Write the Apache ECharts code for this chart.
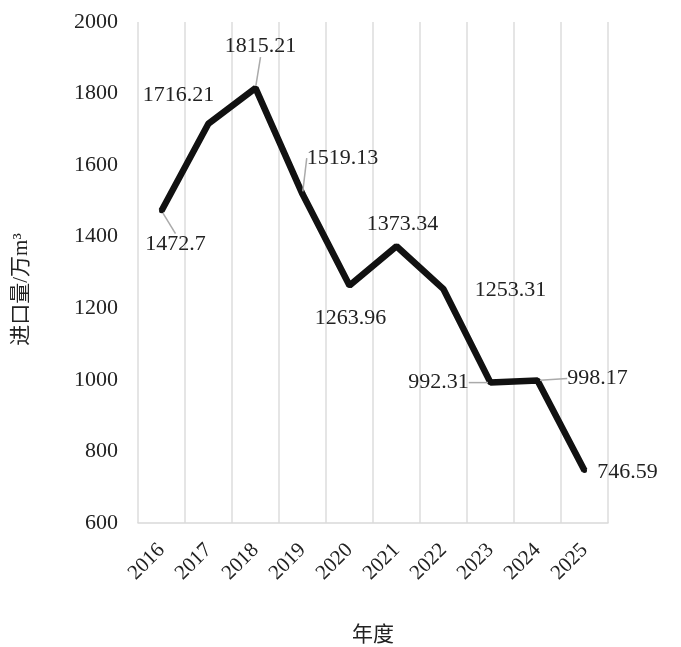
<!DOCTYPE html>
<html>
<head>
<meta charset="utf-8">
<script src="https://cdn.jsdelivr.net/npm/echarts@6/dist/echarts.min.js"></script>
<style>html,body{margin:0;padding:0;background:#fff;}#chart{width:681px;height:647px;}</style>
</head>
<body>
<div id="chart"></div>
<script>
var years = ['2016','2017','2018','2019','2020','2021','2022','2023','2024','2025'];
var importVolume = [1472.7, 1716.21, 1815.21, 1519.13, 1263.96, 1373.34, 1253.31, 992.31, 998.17, 746.59];
var yTicks = [600, 800, 1000, 1200, 1400, 1600, 1800, 2000];

// label placement offsets (layout only)
var labelOffsets = [[14,34],[-30,-28],[5,-42],[40,-36],[1,33],[6,-22],[67,1],[-52,0],[60,-2],[43,2]];
var leaderShown = [true,false,true,true,false,false,false,true,true,false];

var FONT = '"Liberation Serif","DejaVu Serif","Noto Sans CJK SC",serif';
var chart = echarts.init(document.getElementById('chart'), null, {renderer:'canvas'});
chart.setOption({
  backgroundColor:'#fff',
  animation:false,
  grid:{left:138,right:73,top:22,bottom:124,containLabel:false,outerBoundsMode:'none'},
  xAxis:{
    type:'category', data:years, boundaryGap:true,
    axisLine:{show:true,lineStyle:{color:'#d9d9d9',width:1.5}},
    axisTick:{show:false},
    splitLine:{show:true,lineStyle:{color:'#dcdcdc',width:1.5}},
    axisLabel:{interval:0,rotate:45,fontFamily:FONT,fontSize:21,color:'#222',margin:24},
    name:'年度', nameLocation:'middle', nameGap:102,
    nameTextStyle:{fontFamily:FONT,fontSize:21,color:'#222'}
  },
  yAxis:{
    type:'value', min:yTicks[0], max:yTicks[yTicks.length-1], interval:200,
    axisLine:{show:false}, axisTick:{show:false}, splitLine:{show:false},
    axisLabel:{fontFamily:FONT,fontSize:22,color:'#222',margin:20,
      formatter:function(v){return String(v);}},
    name:'进口量/万m³', nameLocation:'middle', nameRotate:90, nameGap:106,
    nameTextStyle:{fontFamily:FONT,fontSize:21,color:'#222',padding:[0,34,0,0]}
  },
  series:[{
    type:'line',
    data:importVolume.map(function(v,i){
      return {value:v, labelLine:{show:leaderShown[i]}};
    }),
    symbol:'circle', symbolSize:5,
    itemStyle:{color:'#111'},
    lineStyle:{color:'#111',width:6.5},
    label:{show:true,position:'inside',fontFamily:FONT,fontSize:22,color:'#222',
      formatter:function(p){return String(p.value);}},
    labelLine:{show:true,lineStyle:{color:'#aaa',width:1.5}},
    labelLayout:function(p){
      var o = labelOffsets[p.dataIndex];
      return {dx:o[0], dy:o[1]};
    }
  }]
});
</script>
</body>
</html>
